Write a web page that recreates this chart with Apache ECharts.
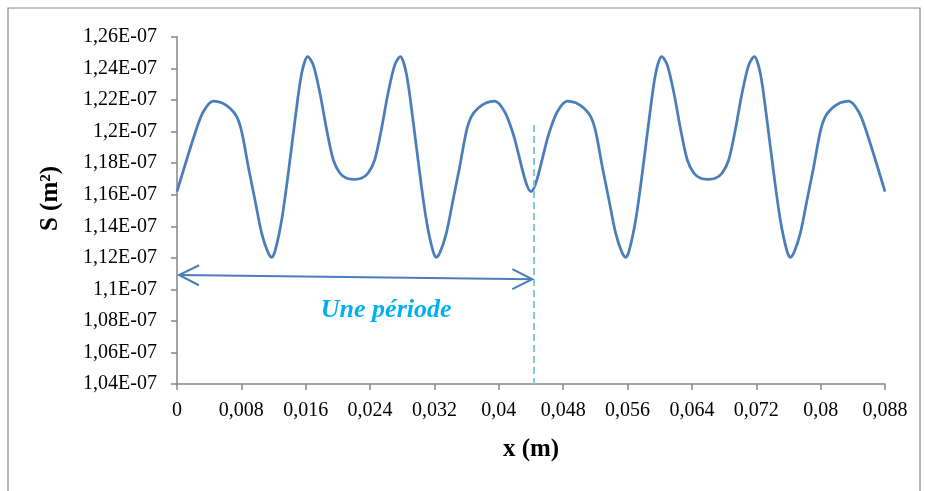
<!DOCTYPE html>
<html><head><meta charset="utf-8">
<script src="https://cdn.jsdelivr.net/npm/echarts@6/dist/echarts.min.js"></script>
<style>html,body{margin:0;padding:0;background:#fff}#chart{width:925px;height:491px}</style>
</head><body><div id="chart"></div>
<script>
// x position along the profile (m)
const xValues = [
  0, 0.00224, 0.00327, 0.00451, 0.00556, 0.00659, 0.00742, 0.00804, 0.00886, 0.00969, 0.01053, 0.0113, 0.01177,
  0.0122, 0.01301, 0.01383, 0.01467, 0.0155, 0.01625, 0.01694, 0.01777, 0.01861, 0.01943, 0.02026, 0.02109, 0.022,
  0.02291, 0.02374, 0.02457, 0.02539, 0.02623, 0.02706, 0.02775, 0.0285, 0.02933, 0.03017, 0.03099, 0.0318, 0.03223,
  0.0327, 0.03347, 0.03431, 0.03514, 0.03596, 0.03658, 0.03741, 0.03844, 0.03949, 0.04073, 0.04176, 0.044,
  0.04624, 0.04727, 0.04851, 0.04956, 0.05059, 0.05142, 0.05204, 0.05286, 0.05369, 0.05453, 0.0553, 0.05577,
  0.0562, 0.05701, 0.05783, 0.05867, 0.0595, 0.06025, 0.06094, 0.06177, 0.06261, 0.06343, 0.06426, 0.06509, 0.066,
  0.06691, 0.06774, 0.06857, 0.06939, 0.07023, 0.07106, 0.07175, 0.0725, 0.07333, 0.07417, 0.07499, 0.0758, 0.07623,
  0.0767, 0.07747, 0.07831, 0.07914, 0.07996, 0.08058, 0.08141, 0.08244, 0.08349, 0.08473, 0.08576, 0.088
];
// cross-section S, in units of 1E-07 m²
const sValues = [
  1.162, 1.199, 1.2126, 1.2194, 1.2183, 1.2148, 1.2095, 1.200, 1.1778, 1.1567, 1.1355, 1.1235, 1.1203,
  1.1245, 1.144, 1.1736, 1.2074, 1.237, 1.2475, 1.2422, 1.2243, 1.201, 1.182, 1.1736, 1.1704, 1.1698,
  1.1704, 1.1736, 1.182, 1.201, 1.2243, 1.2422, 1.2475, 1.237, 1.2074, 1.1736, 1.144, 1.1245, 1.1203,
  1.1235, 1.1355, 1.1567, 1.1778, 1.200, 1.2095, 1.2148, 1.2183, 1.2194, 1.2126, 1.199, 1.162,
  1.199, 1.2126, 1.2194, 1.2183, 1.2148, 1.2095, 1.200, 1.1778, 1.1567, 1.1355, 1.1235, 1.1203,
  1.1245, 1.144, 1.1736, 1.2074, 1.237, 1.2475, 1.2422, 1.2243, 1.201, 1.182, 1.1736, 1.1704, 1.1698,
  1.1704, 1.1736, 1.182, 1.201, 1.2243, 1.2422, 1.2475, 1.237, 1.2074, 1.1736, 1.144, 1.1245, 1.1203,
  1.1235, 1.1355, 1.1567, 1.1778, 1.200, 1.2095, 1.2148, 1.2183, 1.2194, 1.2126, 1.199, 1.162
];
const xAxisTitle = 'x (m)';
const yAxisTitle = 'S (m²)';
const periodLabel = 'Une période';
// annotation anchors in data units [x (m), S (1E-07 m²)]
const arrowStart = [0.00025, 1.1091];
const arrowEnd = [0.04416, 1.1064];
const periodMarkTop = [0.04437, 1.2042];
const periodMarkBottom = [0.04437, 1.04];
const labelAnchor = [0.0260, 1.0870];

const FONT = "'Liberation Serif','Times New Roman',serif";
const AXIS_COLOR = '#868686';
const LINE_COLOR = '#4A7EBB';

const chart = echarts.init(document.getElementById('chart'), null, {renderer: 'canvas'});
const data = xValues.map((x, i) => [x, sValues[i]]);

chart.setOption({
  animation: false,
  backgroundColor: '#fff',
  grid: {left: 177, right: 40, top: 37, bottom: 107, containLabel: false},
  xAxis: {
    type: 'value', min: 0, max: 0.088, interval: 0.008,
    name: xAxisTitle, nameLocation: 'middle', nameGap: 53,
    nameTextStyle: {fontFamily: FONT, fontSize: 25, fontWeight: 'bold', color: '#000'},
    axisLine: {show: true, lineStyle: {color: AXIS_COLOR, width: 1.5}},
    axisTick: {show: true, inside: false, length: 6, lineStyle: {color: AXIS_COLOR, width: 1.5}},
    axisLabel: {fontFamily: FONT, fontSize: 20, color: '#000', margin: 17, showMaxLabel: true, showMinLabel: true,
      formatter: v => String(parseFloat(v.toFixed(3))).replace('.', ',')},
    splitLine: {show: false}
  },
  yAxis: {
    type: 'value', min: 1.04, max: 1.26, interval: 0.02,
    name: yAxisTitle, nameLocation: 'middle', nameGap: 114, nameRotate: 90,
    nameTextStyle: {fontFamily: FONT, fontSize: 25, fontWeight: 'bold', color: '#000', padding: [0, 0, 0, 24]},
    axisLine: {show: true, lineStyle: {color: AXIS_COLOR, width: 1.5}},
    axisTick: {show: true, inside: false, length: 6, lineStyle: {color: AXIS_COLOR, width: 1.5}},
    axisLabel: {fontFamily: FONT, fontSize: 20, color: '#000', margin: 20,
      formatter: v => String(parseFloat(v.toFixed(2))).replace('.', ',') + 'E-07'},
    splitLine: {show: false}
  },
  series: [{
    type: 'line', data: data, smooth: 0.3, showSymbol: false, symbol: 'none',
    lineStyle: {color: LINE_COLOR, width: 2.75},
    markLine: {
      silent: true, symbol: ['none', 'none'], label: {show: false}, animation: false,
      lineStyle: {type: [7, 4], color: '#86C9DC', width: 2},
      data: [[{coord: periodMarkTop}, {coord: periodMarkBottom}]]
    }
  }]
});

function drawAnnotations() {
  const p1 = chart.convertToPixel({gridIndex: 0}, arrowStart);
  const p2 = chart.convertToPixel({gridIndex: 0}, arrowEnd);
  const lp = chart.convertToPixel({gridIndex: 0}, labelAnchor);
  const dx = p2[0] - p1[0], dy = p2[1] - p1[1];
  const len = Math.hypot(dx, dy);
  const ux = dx / len, uy = dy / len, nx = -uy, ny = ux;
  const L = 20, W = 10;
  const headA = [[p1[0] + ux * L + nx * W, p1[1] + uy * L + ny * W], p1, [p1[0] + ux * L - nx * W, p1[1] + uy * L - ny * W]];
  const headB = [[p2[0] - ux * L + nx * W, p2[1] - uy * L + ny * W], p2, [p2[0] - ux * L - nx * W, p2[1] - uy * L - ny * W]];
  const stroke = {stroke: LINE_COLOR, lineWidth: 2, fill: null};
  chart.setOption({
    graphic: [
      {type: 'rect', z: 0, silent: true, shape: {x: 8, y: 8, width: 912, height: 520}, style: {stroke: '#888', lineWidth: 1.2, fill: null}},
      {type: 'polyline', z: 10, silent: true, shape: {points: [p1, p2]}, style: stroke},
      {type: 'polyline', z: 10, silent: true, shape: {points: headA}, style: stroke},
      {type: 'polyline', z: 10, silent: true, shape: {points: headB}, style: stroke},
      {type: 'text', z: 10, silent: true, x: lp[0], y: lp[1],
        style: {text: periodLabel, fill: '#00B0F0', font: "italic bold 26px " + FONT, textAlign: 'center', textVerticalAlign: 'middle'}}
    ]
  });
}
drawAnnotations();
</script></body></html>
